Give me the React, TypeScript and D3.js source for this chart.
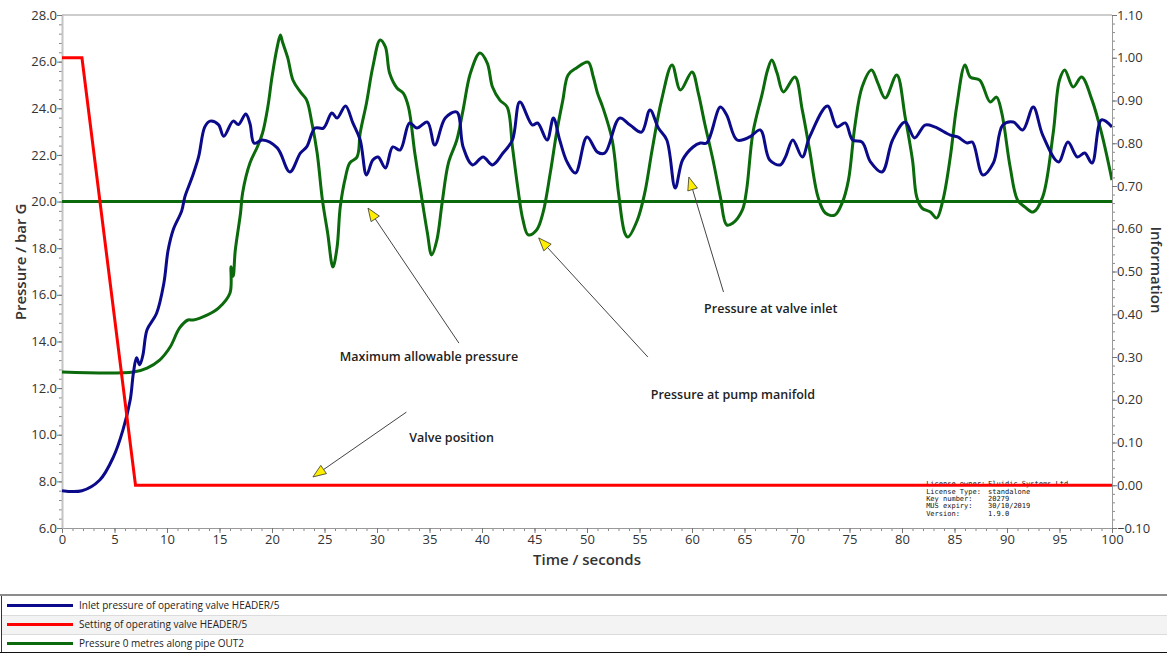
import React, { useEffect, useRef } from 'react';
import * as d3 from 'd3';

// Inlet pressure of operating valve HEADER/5 (bar G)
const inletTime = [0, 1.9, 3.6, 4.9, 5.8, 6.5, 6.8, 7.1, 7.4, 7.7, 8.1, 9.0, 9.7, 10.1, 10.6, 11.4, 11.7, 12.4, 13.0, 13.6, 14.1, 14.9, 15.4, 16.3, 16.8, 17.5, 17.9, 18.3, 19.1, 20.5, 21.7, 22.7, 23.3, 24.1, 24.9, 25.7, 26.2, 27.0, 27.7, 28.4, 29.0, 29.6, 30.1, 30.8, 31.5, 32.2, 33.1, 33.8, 34.8, 35.5, 36.5, 37.6, 38.2, 39.1, 40.1, 41.0, 42.0, 42.9, 43.6, 44.8, 45.3, 46.2, 46.8, 47.4, 48.1, 48.9, 50.0, 51.0, 51.7, 53.1, 54.1, 55.2, 56.0, 56.8, 57.6, 58.4, 59.1, 60.1, 60.8, 61.4, 62.7, 63.3, 64.3, 65.5, 66.5, 67.4, 68.4, 68.9, 69.6, 70.5, 71.2, 72.9, 73.8, 74.6, 75.3, 76.2, 77.0, 78.1, 79.1, 80.3, 81.2, 82.2, 83.1, 84.6, 85.3, 86.2, 86.7, 87.7, 88.7, 89.6, 90.6, 91.5, 92.5, 93.4, 94.9, 95.8, 96.7, 97.4, 98.1, 99.0, 100];
const inletPressure = [7.6, 7.6, 8.06, 9.05, 10.2, 11.5, 12.65, 13.3, 13.0, 13.4, 14.5, 15.2, 16.5, 17.9, 18.8, 19.6, 20.2, 21.05, 21.9, 23.2, 23.45, 23.3, 22.8, 23.45, 23.3, 23.75, 23.35, 22.5, 22.64, 22.3, 21.27, 22.08, 22.34, 23.15, 23.15, 23.8, 23.58, 24.1, 23.37, 22.64, 21.14, 21.78, 21.91, 21.44, 22.34, 22.21, 23.37, 23.15, 23.41, 22.42, 23.58, 23.84, 22.34, 21.57, 21.91, 21.57, 22.08, 22.64, 24.27, 23.28, 23.37, 22.64, 23.58, 22.64, 21.7, 21.22, 22.77, 22.12, 22.08, 23.58, 23.28, 22.98, 23.93, 23.15, 22.64, 20.58, 21.78, 22.34, 22.51, 22.51, 24.05, 23.71, 22.64, 22.77, 23.07, 21.78, 21.57, 21.91, 22.64, 21.91, 22.77, 24.1, 23.2, 23.37, 22.64, 22.55, 21.7, 21.27, 22.64, 23.41, 22.73, 23.28, 23.2, 22.85, 22.77, 22.51, 22.55, 21.14, 21.65, 23.28, 23.41, 23.07, 24.05, 22.85, 21.7, 22.55, 21.91, 22.08, 21.65, 23.5, 23.2];

// Setting of operating valve HEADER/5 (right axis)
const settingTime = [0, 1.9, 7.0, 100];
const settingValue = [1.0, 1.0, 0.0, 0.0];

// Pressure 0 metres along pipe OUT2 (bar G)
const outTime = [0, 6.8, 8.1, 9.3, 10.3, 11.2, 12.0, 12.5, 13.8, 14.9, 16.0, 16.1, 16.3, 16.5, 17.0, 17.2, 17.9, 18.6, 19.1, 19.6, 20.0, 20.5, 20.8, 21.0, 21.5, 22.0, 22.7, 23.3, 23.8, 24.3, 24.8, 25.3, 25.8, 26.2, 26.5, 27.0, 27.4, 28.1, 28.4, 29.0, 29.6, 30.3, 30.8, 31.2, 31.9, 32.5, 33.0, 33.6, 34.1, 34.8, 35.2, 35.7, 36.2, 36.8, 37.6, 38.2, 38.9, 39.8, 40.5, 41.0, 41.7, 42.4, 42.9, 43.4, 43.9, 44.4, 45.2, 45.8, 46.5, 47.1, 47.7, 48.2, 49.0, 50.1, 50.6, 51.0, 51.5, 52.4, 53.0, 53.6, 53.9, 54.8, 55.5, 56.2, 57.1, 58.1, 58.9, 60.0, 60.6, 61.2, 62.0, 62.7, 63.3, 63.9, 64.8, 65.2, 65.8, 66.7, 67.2, 67.6, 68.1, 68.7, 69.8, 70.5, 71.2, 72.0, 72.7, 73.6, 74.3, 74.9, 75.5, 76.2, 77.1, 77.7, 78.4, 79.5, 80.3, 81.0, 81.4, 81.9, 82.7, 83.3, 83.9, 84.6, 85.2, 86.0, 86.5, 87.4, 88.4, 89.0, 89.5, 90.3, 91.0, 91.7, 92.5, 93.4, 94.4, 95.0, 95.5, 96.3, 97.1, 98.1, 99.0, 100];
const outPressure = [12.69, 12.69, 12.86, 13.2, 13.76, 14.58, 14.92, 14.92, 15.13, 15.43, 16.08, 17.2, 16.8, 17.9, 19.5, 20.37, 21.65, 22.34, 22.94, 24.05, 25.34, 26.63, 27.14, 26.84, 26.16, 25.2, 24.7, 24.35, 23.37, 22.08, 20.07, 18.65, 17.19, 18.05, 19.77, 21.05, 21.65, 21.91, 22.94, 24.23, 25.77, 26.93, 26.63, 25.51, 24.87, 24.65, 24.05, 22.08, 20.62, 18.65, 17.71, 18.35, 19.94, 21.65, 22.64, 23.93, 25.51, 26.37, 25.94, 24.91, 24.35, 24.05, 22.34, 20.62, 19.21, 18.57, 18.78, 19.5, 21.22, 22.94, 24.35, 25.43, 25.73, 25.98, 25.34, 24.65, 24.05, 22.64, 20.37, 18.65, 18.48, 19.21, 20.37, 22.21, 24.35, 25.86, 24.78, 25.56, 24.65, 23.37, 21.78, 20.2, 19.0, 19.08, 19.64, 20.5, 22.94, 24.65, 25.64, 26.07, 25.51, 24.7, 25.34, 23.93, 22.21, 20.2, 19.51, 19.42, 19.94, 20.92, 23.2, 24.91, 25.64, 25.08, 24.44, 25.43, 23.63, 21.78, 20.2, 19.72, 19.55, 19.29, 20.07, 21.91, 24.05, 25.86, 25.34, 25.21, 24.27, 24.48, 23.8, 21.48, 20.07, 19.77, 19.55, 20.2, 22.94, 25.21, 25.64, 24.91, 25.34, 24.35, 22.94, 20.92];

const maxAllowable = 20.0;

// Annotations: label position, arrow tail and tip, in data units (time, bar G)
const noteLabels = ['Maximum allowable pressure', 'Pressure at pump manifold', 'Valve position', 'Pressure at valve inlet'];
const noteText = [[34.95, 13.29], [63.9, 11.66], [37.1, 9.82], [67.5, 15.35]];
const noteTail = [[37.8, 13.93], [55.8, 13.33], [32.8, 10.97], [63.0, 16.12]];
const noteTip = [[29.14, 19.72], [45.4, 18.44], [23.9, 8.19], [59.7, 21.05]];

const licenceKeys = ['License owner:', 'License Type:', 'Key number:', 'MUS expiry:', 'Version:'];
const licenceValues = ['Fluidic Systems Ltd', 'standalone', '20279', '30/10/2019', '1.9.0'];

const legendLabels = ['Inlet pressure of operating valve HEADER/5', 'Setting of operating valve HEADER/5', 'Pressure 0 metres along pipe OUT2'];
const legendColors = ['#0a0a8a', '#ff0000', '#0b6a0b'];

const App = () => {
  const ref = useRef<SVGSVGElement | null>(null);

  useEffect(() => {
    const svg = d3.select(ref.current);
    svg.selectAll('*').remove();

    const width = 1167;
    const margin = { top: 15, right: 55, bottom: 125, left: 62 };
    const plotH = 653 - margin.top - margin.bottom;
    const plotW = width - margin.left - margin.right;
    const font = '"Open Sans", "Noto Sans", sans-serif';

    const x = d3.scaleLinear().domain([0, 100]).range([0, plotW]);
    const yL = d3.scaleLinear().domain([6, 28]).range([plotH, 0]);
    const yR = d3.scaleLinear().domain([-0.1, 1.1]).range([plotH, 0]);

    const chart = svg.append('g').attr('transform', `translate(${margin.left}, ${margin.top})`);

    chart.append('defs').append('clipPath').attr('id', 'plot-clip')
      .append('rect').attr('width', plotW).attr('height', plotH);

    // Minor ticks
    const minor = (axis: any, vals: number[], transform: string) => {
      chart.append('g').attr('transform', transform)
        .call(axis.tickValues(vals).tickSize(3).tickFormat(() => ''))
        .call((g: any) => g.select('.domain').remove())
        .call((g: any) => g.selectAll('line').attr('stroke', '#888'));
    };
    minor(d3.axisBottom(x), d3.range(0, 101, 1), `translate(0, ${plotH})`);
    minor(d3.axisLeft(yL), d3.range(0, 56).map((i) => 6 + i * 0.4), 'translate(0,0)');
    minor(d3.axisRight(yR), d3.range(0, 61).map((i) => -0.1 + i * 0.02), `translate(${plotW},0)`);

    const styleAxis = (g: any) => {
      g.selectAll('text').attr('fill', '#333').style('font-size', '13px').style('font-family', font);
      g.selectAll('line').attr('stroke', '#777');
      g.select('.domain').attr('stroke', '#999');
    };

    chart.append('g').attr('transform', `translate(0, ${plotH})`)
      .call(d3.axisBottom(x).tickValues(d3.range(0, 101, 5)).tickSize(5).tickSizeOuter(0).tickPadding(2))
      .call(styleAxis);

    chart.append('g')
      .call(d3.axisLeft(yL).tickValues(d3.range(6, 28.01, 2)).tickFormat(d3.format('.1f')).tickSize(5).tickSizeOuter(0).tickPadding(0))
      .call(styleAxis)
      .call((g: any) => g.select('.domain').attr('stroke', '#c4c4c4').attr('stroke-width', 2));

    chart.append('g').attr('transform', `translate(${plotW}, 0)`)
      .call(d3.axisRight(yR).tickValues(d3.range(0, 13).map((i) => -0.1 + i * 0.1)).tickFormat(d3.format('.2f')).tickSize(5).tickSizeOuter(0).tickPadding(0))
      .call(styleAxis);

    // top border
    chart.append('line').attr('x1', 0).attr('x2', plotW).attr('y1', 0).attr('y2', 0).attr('stroke', '#999');

    // Axis titles
    const title = (t: any) => t.attr('text-anchor', 'middle').attr('dominant-baseline', 'middle')
      .style('font-family', font).style('font-size', '15px').style('font-weight', 600).attr('fill', '#333');
    svg.append('text').attr('transform', `translate(22, 262) rotate(-90)`).call(title).text('Pressure / bar G');
    svg.append('text').attr('transform', `translate(1155, 270) rotate(90)`).call(title).text('Information');
    svg.append('text').attr('x', margin.left + x(50)).attr('y', 561).call(title).text('Time / seconds');

    // Licence stamp (first line sits under the valve setting line)
    const lic = chart.append('g').style('font-family', '"DejaVu Sans Mono", monospace').style('font-size', '7px').attr('fill', '#111');
    licenceKeys.forEach((k, i) => {
      const yy = yR(0) - 1 + i * 7.4;
      lic.append('text').attr('x', x(82.3)).attr('y', yy).attr('dominant-baseline', 'middle').text(k);
      lic.append('text').attr('x', x(88.2)).attr('y', yy).attr('dominant-baseline', 'middle').text(licenceValues[i]);
    });

    const plot = chart.append('g').attr('clip-path', 'url(#plot-clip)');

    // Max allowable pressure line
    plot.append('line').attr('x1', 0).attr('x2', plotW)
      .attr('y1', yL(maxAllowable)).attr('y2', yL(maxAllowable))
      .attr('stroke', legendColors[2]).attr('stroke-width', 3);

    const makeLine = (xs: number[], ys: number[], yScale: any, curve: any) =>
      d3.line<number>().x((_, i) => x(xs[i])).y((v) => yScale(v)).curve(curve)(ys);

    plot.append('path').attr('d', makeLine(outTime, outPressure, yL, d3.curveCatmullRom.alpha(0.5)))
      .attr('fill', 'none').attr('stroke', legendColors[2]).attr('stroke-width', 3).attr('stroke-linejoin', 'round');
    plot.append('path').attr('d', makeLine(inletTime, inletPressure, yL, d3.curveCatmullRom.alpha(0.5)))
      .attr('fill', 'none').attr('stroke', legendColors[0]).attr('stroke-width', 3).attr('stroke-linejoin', 'round');
    plot.append('path').attr('d', makeLine(settingTime, settingValue, yR, d3.curveLinear))
      .attr('fill', 'none').attr('stroke', legendColors[1]).attr('stroke-width', 3);

    // Annotations
    noteLabels.forEach((label, i) => {
      const tx = x(noteTail[i][0]), ty = yL(noteTail[i][1]);
      const px = x(noteTip[i][0]), py = yL(noteTip[i][1]);
      const ang = Math.atan2(py - ty, px - tx);
      const len = 13, half = 5;
      const bx = px - len * Math.cos(ang), by = py - len * Math.sin(ang);
      chart.append('line').attr('x1', tx).attr('y1', ty).attr('x2', bx).attr('y2', by)
        .attr('stroke', '#444').attr('stroke-width', 1);
      const pts = [
        [px, py],
        [bx + half * Math.sin(ang), by - half * Math.cos(ang)],
        [bx - half * Math.sin(ang), by + half * Math.cos(ang)],
      ];
      chart.append('polygon').attr('points', pts.map((p) => p.join(',')).join(' '))
        .attr('fill', '#ffee00').attr('stroke', '#333').attr('stroke-width', 0.8);
      chart.append('text').attr('x', x(noteText[i][0])).attr('y', yL(noteText[i][1]))
        .attr('text-anchor', 'middle').attr('dominant-baseline', 'middle')
        .style('font-family', font).style('font-size', '12.5px').style('font-weight', 600).attr('fill', '#222')
        .text(label);
    });

    // Legend
    const leg = svg.append('g');
    leg.append('line').attr('x1', 0).attr('x2', width).attr('y1', 595).attr('y2', 595).attr('stroke', '#8c8c8c').attr('stroke-width', 2);
    legendLabels.forEach((label, i) => {
      const top = 596 + i * 19;
      leg.append('rect').attr('x', 1).attr('y', top).attr('width', width - 1).attr('height', 19)
        .attr('fill', i === 1 ? '#f3f3f3' : '#fff');
      if (i > 0) {
        leg.append('line').attr('x1', 1).attr('x2', width).attr('y1', top + 0.5).attr('y2', top + 0.5).attr('stroke', '#dcdcdc');
      }
      leg.append('line').attr('x1', 7).attr('x2', 73).attr('y1', top + 9.5).attr('y2', top + 9.5)
        .attr('stroke', legendColors[i]).attr('stroke-width', 3);
      // narrower face, like the original UI font
      leg.append('text').attr('transform', `translate(79, ${top + 10}) scale(0.87, 1)`)
        .attr('dominant-baseline', 'middle')
        .style('font-family', font).style('font-size', '11.5px').attr('fill', '#222')
        .text(label);
    });
    leg.append('line').attr('x1', 1.5).attr('x2', 1.5).attr('y1', 596).attr('y2', 653).attr('stroke', '#333');
    leg.append('line').attr('x1', 0).attr('x2', width).attr('y1', 652.5).attr('y2', 652.5).attr('stroke', '#111');
  }, []);

  return (
    <svg ref={ref} width={1167} height={653}
      style={{ position: 'absolute', left: 0, top: 0, background: '#fff' }} />
  );
};

export default App;
